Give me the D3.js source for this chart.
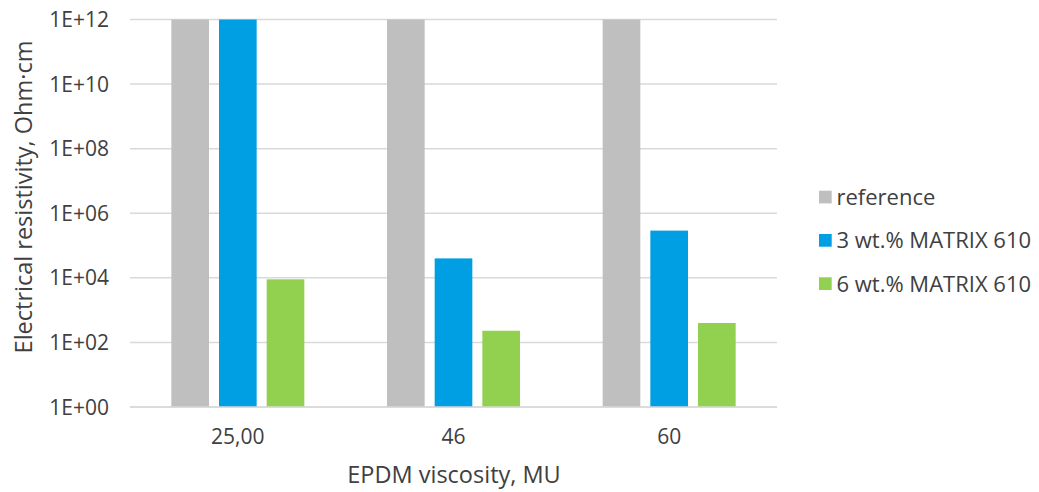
<!DOCTYPE html>
<html>
<head>
<meta charset="utf-8">
<script src="https://cdn.jsdelivr.net/npm/d3@7"></script>
<style>
  html, body { margin: 0; padding: 0; background: #fff; }
  text { font-family: "Open Sans", "Noto Sans", sans-serif; fill: #404040; }
</style>
</head>
<body>
<div id="chart"></div>
<script>
// data
var categories = ["25,00", "46", "60"];
var seriesNames = ["reference", "3 wt.% MATRIX 610", "6 wt.% MATRIX 610"];
var seriesColors = ["#bfbfbf", "#009fe3", "#92d050"];
var referenceValues = [1e12, 1e12, 1e12];
var matrix3Values = [1e12, 40000, 290000];
var matrix6Values = [9000, 230, 400];
var yTickValues = [1, 1e2, 1e4, 1e6, 1e8, 1e10, 1e12];
var yTickLabels = ["1E+00", "1E+02", "1E+04", "1E+06", "1E+08", "1E+10", "1E+12"];

var allSeries = [referenceValues, matrix3Values, matrix6Values];

var width = 1039, height = 492;
var plot = { left: 130, right: 777, top: 19.5, bottom: 407 };

var svg = d3.select("#chart").append("svg")
    .attr("width", width)
    .attr("height", height);

var x0 = d3.scaleBand().domain(categories).range([plot.left, plot.right]).padding(0);
var x1 = d3.scaleBand().domain(d3.range(seriesNames.length))
    .range([-66.5, 66.5]).paddingInner(0.21).paddingOuter(0);
var y = d3.scaleLog().domain([1, 1e12]).range([plot.bottom, plot.top]);

// gridlines
svg.append("g").selectAll("line")
    .data(yTickValues)
    .join("line")
    .attr("x1", plot.left).attr("x2", plot.right)
    .attr("y1", function (d) { return y(d); })
    .attr("y2", function (d) { return y(d); })
    .attr("stroke", "#d9d9d9")
    .attr("stroke-width", 1.5);

// y tick labels
svg.append("g").selectAll("text")
    .data(yTickValues)
    .join("text")
    .attr("x", 109)
    .attr("y", function (d) { return y(d); })
    .attr("dy", "0.36em")
    .attr("text-anchor", "end")
    .attr("font-size", 21)
    .text(function (d, i) { return yTickLabels[i]; });

// bars
var groups = svg.append("g").selectAll("g")
    .data(categories)
    .join("g")
    .attr("transform", function (d) { return "translate(" + (x0(d) + x0.bandwidth() / 2) + ",0)"; });

groups.selectAll("rect")
    .data(function (d, ci) {
        return allSeries.map(function (s, si) { return { si: si, v: s[ci] }; });
    })
    .join("rect")
    .attr("x", function (d) { return x1(d.si); })
    .attr("width", x1.bandwidth())
    .attr("y", function (d) { return y(d.v); })
    .attr("height", function (d) { return plot.bottom - y(d.v); })
    .attr("fill", function (d) { return seriesColors[d.si]; });

// bottom axis line
svg.append("line")
    .attr("x1", plot.left).attr("x2", plot.right)
    .attr("y1", plot.bottom).attr("y2", plot.bottom)
    .attr("stroke", "#d9d9d9")
    .attr("stroke-width", 1.5);

// category labels
svg.append("g").selectAll("text")
    .data(categories)
    .join("text")
    .attr("x", function (d) { return x0(d) + x0.bandwidth() / 2; })
    .attr("y", 444)
    .attr("text-anchor", "middle")
    .attr("font-size", 21)
    .text(function (d) { return d; });

// axis titles
svg.append("text")
    .attr("x", 454)
    .attr("y", 482.5)
    .attr("text-anchor", "middle")
    .attr("font-size", 23.5)
    .text("EPDM viscosity, MU");

svg.append("text")
    .attr("transform", "translate(31.5,197) rotate(-90)")
    .attr("text-anchor", "middle")
    .attr("font-size", 23.5)
    .text("Electrical resistivity, Ohm·cm");

// legend
var legend = svg.append("g").selectAll("g")
    .data(seriesNames)
    .join("g")
    .attr("transform", function (d, i) { return "translate(819," + (197 + i * 43.3) + ")"; });

legend.append("rect")
    .attr("x", 0).attr("y", -6.3)
    .attr("width", 12.7).attr("height", 12.7)
    .attr("fill", function (d, i) { return seriesColors[i]; });

legend.append("text")
    .attr("x", 17.5)
    .attr("y", 8)
    .attr("font-size", 22)
    .text(function (d) { return d; });
</script>
</body>
</html>
